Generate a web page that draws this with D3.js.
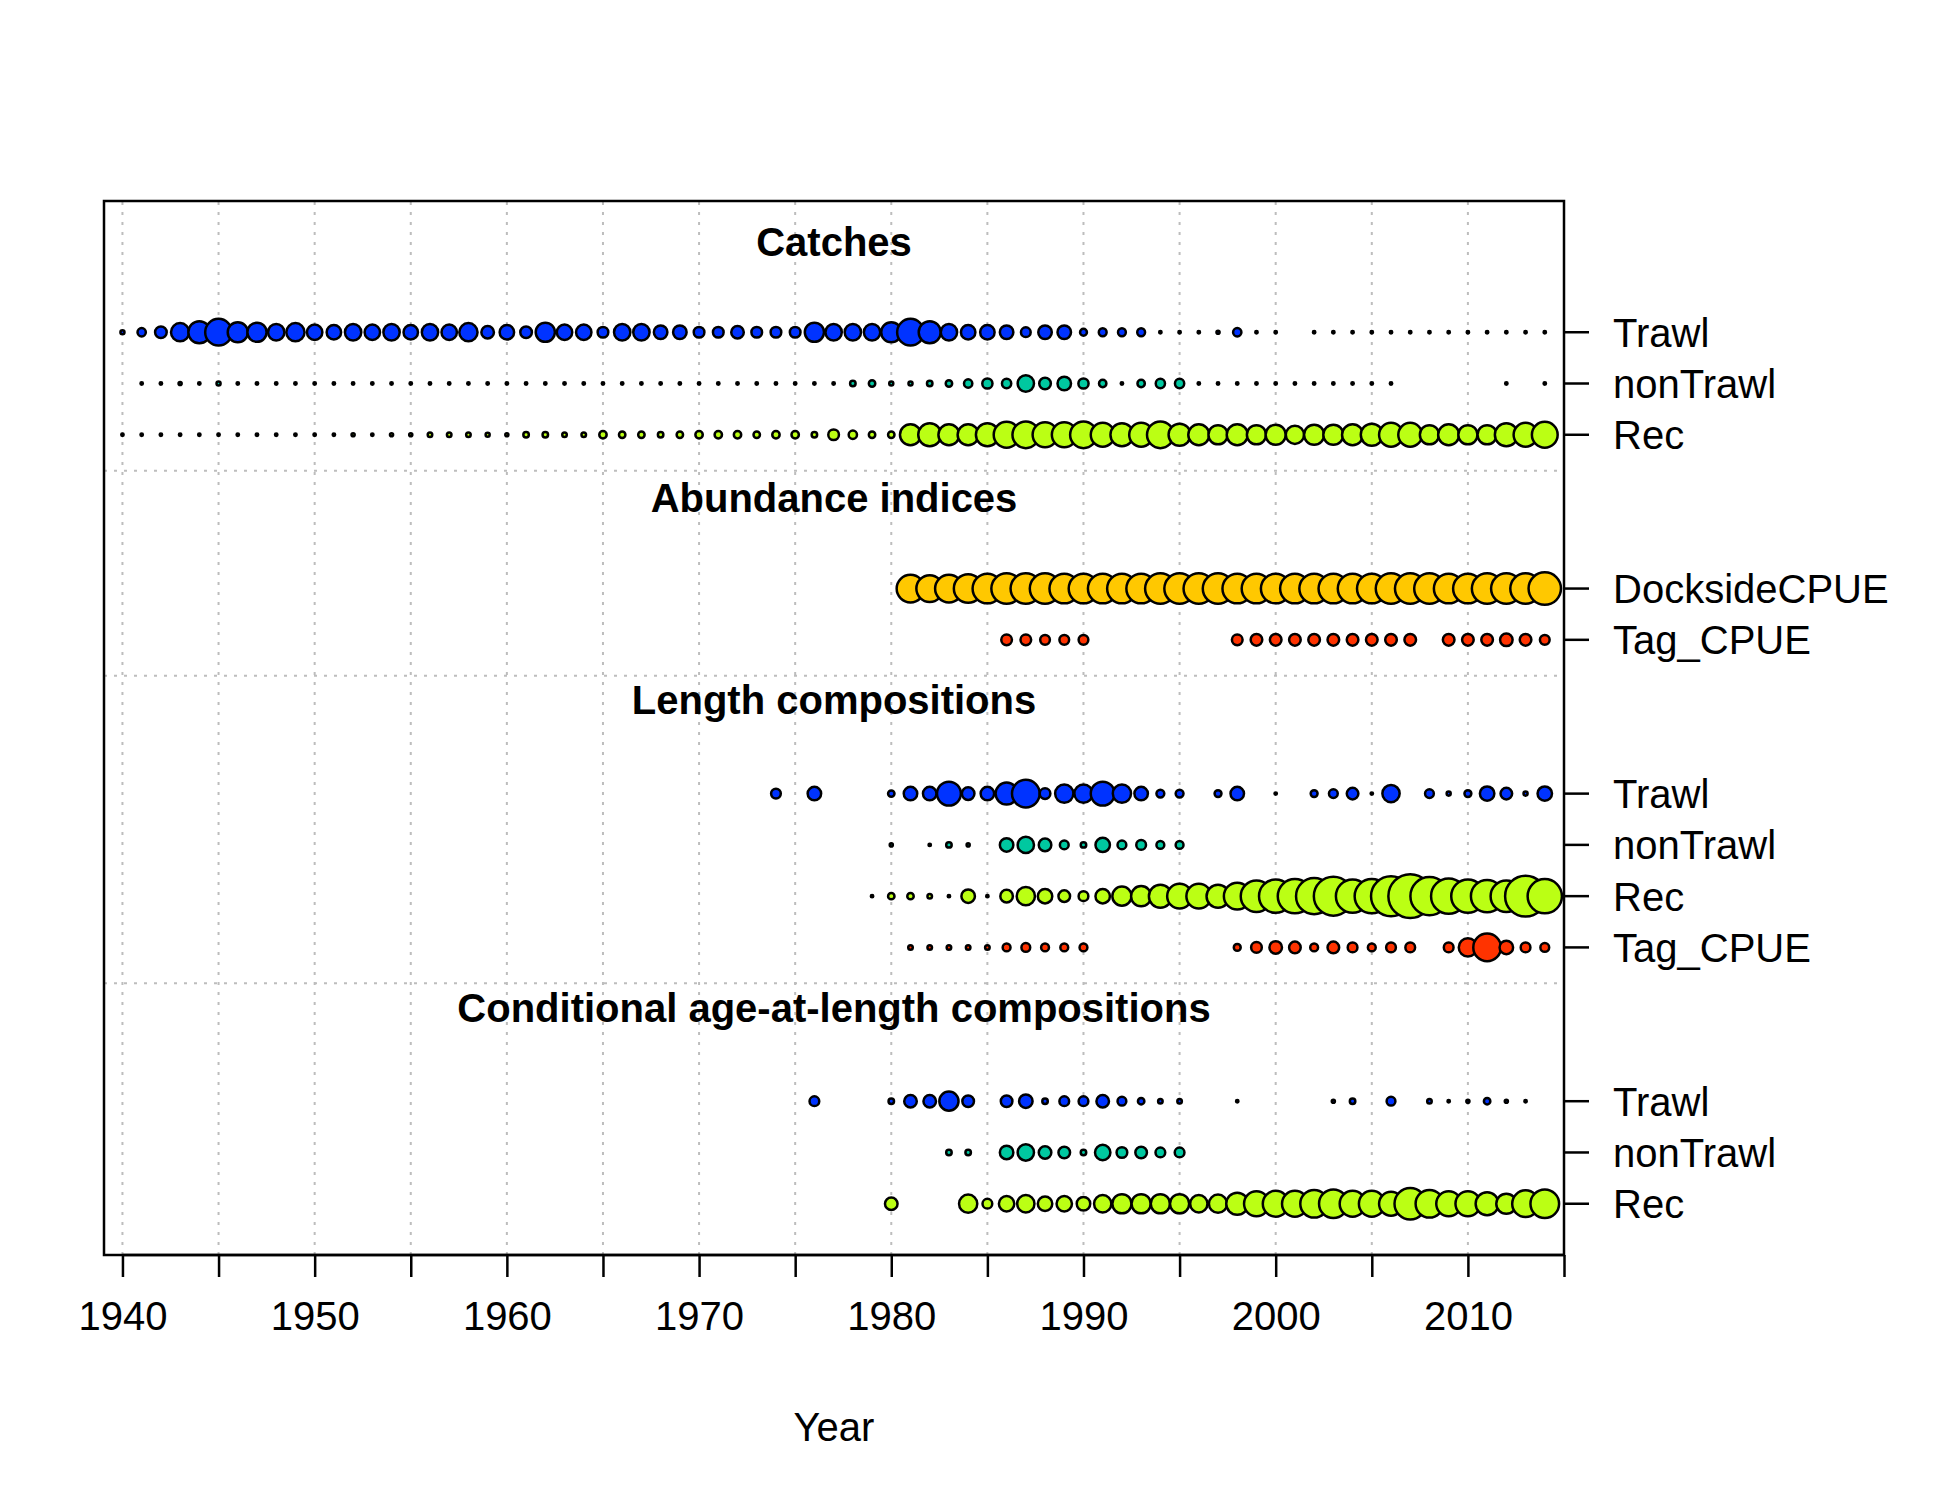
<!DOCTYPE html>
<html>
<head>
<meta charset="utf-8">
<script src="https://cdn.jsdelivr.net/npm/d3@7.9.0/dist/d3.min.js"></script>
<style>
  body { margin: 0; background: #fff; }
  text { font-family: Arial, "Liberation Sans", sans-serif; }
</style>
</head>
<body>
<svg id="chart" width="1950" height="1500"></svg>
<script>
// bubble sizes (relative, 0 = no data), one value per year from the start year
const catchTrawl = [6, 10.5, 14, 21, 25, 30, 23, 22, 19, 21, 18, 17, 19, 18, 19, 17, 19, 18, 21, 15,
  17, 14, 22, 18, 18, 13, 19, 19, 16, 16, 13, 13, 15, 13, 13, 13, 22, 19, 19, 19,
  23, 30, 25, 19, 17, 17, 16, 12, 16, 16, 9, 10, 10, 10, 3, 3, 3, 5, 10.5, 3,
  3, 0, 3, 3, 3, 3, 3, 3, 3, 3, 3, 3, 3, 3, 3];
const catchNonTrawl = [0, 3, 3, 5, 3, 6, 3, 3, 3, 3, 3, 3, 3, 3, 3, 3, 3, 3, 3, 3,
  3, 3, 3, 3, 3, 3, 3, 3, 3, 3, 3, 3, 3, 3, 3, 3, 3, 3, 7.5, 8.5,
  6, 6, 7.5, 8.5, 10.5, 12.5, 11.5, 19, 14, 16, 12.5, 9.5, 3, 9.5, 11.5, 11.5, 3, 3, 3, 3,
  3, 3, 3, 3, 3, 3, 3, 0, 0, 0, 0, 0, 3, 0, 3];
const catchRec = [3, 3, 3, 3, 3, 3, 3, 3, 3, 3, 3, 3, 5, 3, 5, 5, 6.5, 6.5, 6.5, 6,
  5, 7.5, 7.5, 6.5, 6.5, 9.5, 8.5, 8.5, 7.5, 8.5, 9.5, 9.5, 9.5, 8.5, 9.5, 9.5, 7.5, 13, 10.5, 8.5,
  8.5, 24, 26, 24, 24, 26, 29, 30, 28, 28, 30, 27, 26, 27, 30, 25, 24, 22, 24, 22,
  23, 21, 23, 23, 24, 25, 27, 27, 22, 24, 22, 22, 26, 27, 29];
const cpueDockside = [31, 30, 31, 32, 33, 34, 34, 34, 33, 33, 33, 33, 33, 34, 34, 34, 34, 33, 33, 33,
  33, 33, 33, 33, 33, 34, 34, 34, 33, 33, 34, 34, 34, 36];
const cpueTag = [13, 13, 12, 12, 12, 0, 0, 0, 0, 0, 0, 0, 13, 14, 14, 14, 14, 14, 14, 14,
  14, 14, 0, 14, 14, 14, 15, 14, 12];
const lenTrawl = [12, 0, 16, 0, 0, 0, 8.5, 16, 16, 27, 15, 16, 25, 31, 13, 21, 21, 27, 21, 16,
  10, 10, 0, 9, 16, 0, 3, 0, 9, 11, 14, 3, 20, 0, 11, 6, 9, 17, 14, 6, 17];
const lenNonTrawl = [5, 0, 3, 7.5, 5, 0, 16, 19, 15, 11, 7.5, 17, 11, 12, 10, 10];
const lenRec = [4, 8.5, 8.5, 6.5, 3, 16, 4, 15, 21, 17, 14, 12, 17, 22, 23, 26, 28, 28, 26, 30,
  35, 37, 38, 40, 43, 37, 38, 44, 48, 42, 39, 37, 36, 35, 45, 38];
const lenTag = [6.5, 6.5, 6.5, 6.5, 6.5, 10, 11, 10, 10, 10, 0, 0, 0, 0, 0, 0, 0, 9, 13, 15,
  14, 10, 14, 12, 10, 12, 12, 0, 12, 21, 31, 16, 12, 11];
const caalTrawl = [12, 0, 0, 0, 7.5, 15, 15, 22, 14, 0, 14, 16, 7.5, 12, 12, 15, 11, 8.5, 6.5, 6.5,
  0, 0, 4, 0, 0, 0, 0, 5, 7.5, 0, 11, 0, 6.5, 3, 5, 8.5, 5, 3];
const caalNonTrawl = [7.5, 7.5, 0, 16, 19, 15, 14, 7.5, 18, 13, 14, 12, 12];
const caalRec = [15, 0, 0, 0, 21, 12, 18, 20, 17, 18, 16, 20, 22, 22, 22, 22, 20, 21, 25, 28,
  29, 29, 31, 32, 29, 29, 27, 35, 31, 28, 28, 26, 23, 30, 32];

const groups = ['Catches', 'Abundance indices', 'Length compositions', 'Conditional age-at-length compositions'];
const groupTitleY = [19.7, 14.7, 10.75, 4.75];
const separatorsY = [15.3, 11.3, 5.3];
const colTrawl = '#0033ff', colNonTrawl = '#00c8a0', colRec = '#bbff14', colDock = '#ffc800', colTag = '#ff3300';

const rows = [
  { label: 'Trawl', y: 18, start: 1940, values: catchTrawl, color: colTrawl },
  { label: 'nonTrawl', y: 17, start: 1940, values: catchNonTrawl, color: colNonTrawl },
  { label: 'Rec', y: 16, start: 1940, values: catchRec, color: colRec },
  { label: 'DocksideCPUE', y: 13, start: 1981, values: cpueDockside, color: colDock },
  { label: 'Tag_CPUE', y: 12, start: 1986, values: cpueTag, color: colTag },
  { label: 'Trawl', y: 9, start: 1974, values: lenTrawl, color: colTrawl },
  { label: 'nonTrawl', y: 8, start: 1980, values: lenNonTrawl, color: colNonTrawl },
  { label: 'Rec', y: 7, start: 1979, values: lenRec, color: colRec },
  { label: 'Tag_CPUE', y: 6, start: 1981, values: lenTag, color: colTag },
  { label: 'Trawl', y: 3, start: 1976, values: caalTrawl, color: colTrawl },
  { label: 'nonTrawl', y: 2, start: 1983, values: caalNonTrawl, color: colNonTrawl },
  { label: 'Rec', y: 1, start: 1980, values: caalRec, color: colRec }
];

const svg = d3.select('#chart');
const x = d3.scaleLinear().domain([1939.04, 2015]).range([104, 1564]);
const y = d3.scaleLinear().domain([0, 20.56]).range([1255, 201]);
const r = d3.scaleLinear().domain([0, 36]).range([0, 17]);

// grid
const grid = svg.append('g').attr('stroke', '#bdbdbd').attr('stroke-width', 2).attr('stroke-dasharray', '3,7');
d3.range(1940, 2015, 5).forEach(yr => {
  grid.append('line').attr('x1', x(yr)).attr('x2', x(yr)).attr('y1', y(0)).attr('y2', y(20.56));
});
separatorsY.forEach(v => {
  grid.append('line').attr('x1', x(1939.04)).attr('x2', x(2015)).attr('y1', y(v)).attr('y2', y(v));
});

// bubbles
rows.forEach(row => {
  const pts = row.values.map((v, i) => ({ year: row.start + i, v })).filter(d => d.v > 0);
  svg.append('g').selectAll('circle').data(pts).join('circle')
    .attr('cx', d => x(d.year))
    .attr('cy', y(row.y))
    .attr('r', d => Math.max(1.2, r(d.v) - 0.8))
    .attr('fill', d => d.v <= 3 ? '#000' : row.color)
    .attr('stroke', '#000')
    .attr('stroke-width', 2.5);
});

// group titles
groups.forEach((g, i) => {
  svg.append('text').attr('x', 834).attr('y', y(groupTitleY[i]))
    .attr('text-anchor', 'middle').attr('dominant-baseline', 'middle')
    .attr('font-size', 40).attr('font-weight', 'bold').text(g);
});

// frame
svg.append('rect').attr('x', 104).attr('y', 201).attr('width', 1460).attr('height', 1054)
  .attr('fill', 'none').attr('stroke', '#000').attr('stroke-width', 2.5);

// bottom axis
const xAxis = svg.append('g').attr('transform', `translate(0,${y(0)})`)
  .call(d3.axisBottom(x).tickValues(d3.range(1940, 2016, 5)).tickSize(22).tickFormat(d => d % 10 === 0 ? d : ''));
xAxis.select('.domain').attr('d', `M${x(1940)},0H${x(2015)}`).attr('stroke-width', 2.5);
xAxis.selectAll('.tick line').attr('stroke-width', 2.5);
xAxis.selectAll('.tick text').attr('font-size', 40).attr('dy', 0).attr('y', 75)
  .attr('font-family', 'Arial, "Liberation Sans", sans-serif');

// right axis labels
const right = svg.append('g');
rows.forEach(row => {
  right.append('line').attr('x1', 1564).attr('x2', 1589).attr('y1', y(row.y)).attr('y2', y(row.y))
    .attr('stroke', '#000').attr('stroke-width', 2.5);
  right.append('text').attr('x', 1613).attr('y', y(row.y)).attr('dy', '0.36em')
    .attr('font-size', 40).text(row.label);
});

svg.append('text').attr('x', 834).attr('y', 1430).attr('text-anchor', 'middle')
  .attr('dominant-baseline', 'middle').attr('font-size', 40).text('Year');
</script>
</body>
</html>
